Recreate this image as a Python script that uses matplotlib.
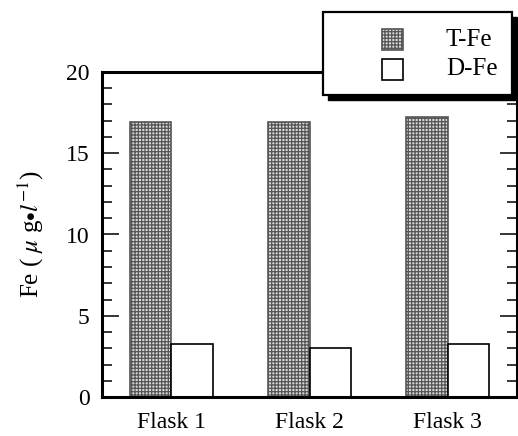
import numpy as np
import matplotlib
matplotlib.use("Agg")
import matplotlib.pyplot as plt
from matplotlib.patches import Rectangle

# data
flasks = ["Flask 1", "Flask 2", "Flask 3"]
t_fe = [16.9, 16.9, 17.2]
d_fe = [3.25, 3.0, 3.25]
series_names = ["T-Fe", "D-Fe"]

plt.rcParams['font.family'] = ['Liberation Serif', 'DejaVu Serif']
plt.rcParams['mathtext.fontset'] = 'stix'
plt.rcParams['hatch.linewidth'] = 0.9

W, H = 518, 436
fig = plt.figure(figsize=(W / 100, H / 100), dpi=100)
ax = fig.add_axes([102 / W, 1 - 397 / H, 415 / W, 325 / H])

x = np.arange(1, len(flasks) + 1)
bw = 0.3
ax.bar(x - bw / 2, t_fe, bw, facecolor='#d8d8d8', edgecolor='#555555',
       hatch='+++++', linewidth=1.2, zorder=2)
ax.bar(x + bw / 2, d_fe, bw, facecolor='white', edgecolor='black',
       linewidth=1.2, zorder=2)

ax.set_xlim(0.5, 3.5)
ax.set_ylim(0, 20)
ax.set_xticks(x)
ax.set_xticklabels(flasks)
ax.set_yticks([0, 5, 10, 15, 20])
ax.set_yticks(np.arange(0, 21, 1), minor=True)
ax.tick_params(axis='y', which='major', direction='in', length=12, width=1.1,
               right=True, labelsize=17, pad=9)
ax.tick_params(axis='y', which='minor', direction='in', length=7, width=1.1,
               right=True)
ax.tick_params(axis='x', which='both', length=0, labelsize=17, pad=11)
for s in ax.spines.values():
    s.set_linewidth(2.2)

ax.set_ylabel(r'Fe ( $\mu$ g$\bullet$$l^{-1}$)', fontsize=18)
ax.yaxis.set_label_coords(-0.135, 0.5)

# legend box with drop shadow, drawn on the figure
def fx(px):
    return px / W

def fy(py):
    return 1 - py / H

lx0, lx1, ly0, ly1 = 323, 512, 12, 95
fig.patches.append(Rectangle((fx(lx0 + 5), fy(ly1 + 5)), fx(lx1 - lx0), (ly1 - ly0) / H,
                             transform=fig.transFigure, facecolor='black',
                             edgecolor='black', zorder=5))
fig.patches.append(Rectangle((fx(lx0), fy(ly1)), fx(lx1 - lx0), (ly1 - ly0) / H,
                             transform=fig.transFigure, facecolor='white',
                             edgecolor='black', linewidth=1.6, zorder=6))
fig.patches.append(Rectangle((fx(382), fy(50)), fx(21), 21 / H,
                             transform=fig.transFigure, facecolor='#d8d8d8',
                             edgecolor='#555555', hatch='+++++', linewidth=1.2, zorder=7))
fig.patches.append(Rectangle((fx(382), fy(80)), fx(21), 21 / H,
                             transform=fig.transFigure, facecolor='white',
                             edgecolor='black', linewidth=1.2, zorder=7))
fig.text(fx(446), fy(40), series_names[0], fontsize=18, va='center', ha='left', zorder=8)
fig.text(fx(446), fy(69), series_names[1], fontsize=18, va='center', ha='left', zorder=8)

fig.savefig("out.png", dpi=100)
